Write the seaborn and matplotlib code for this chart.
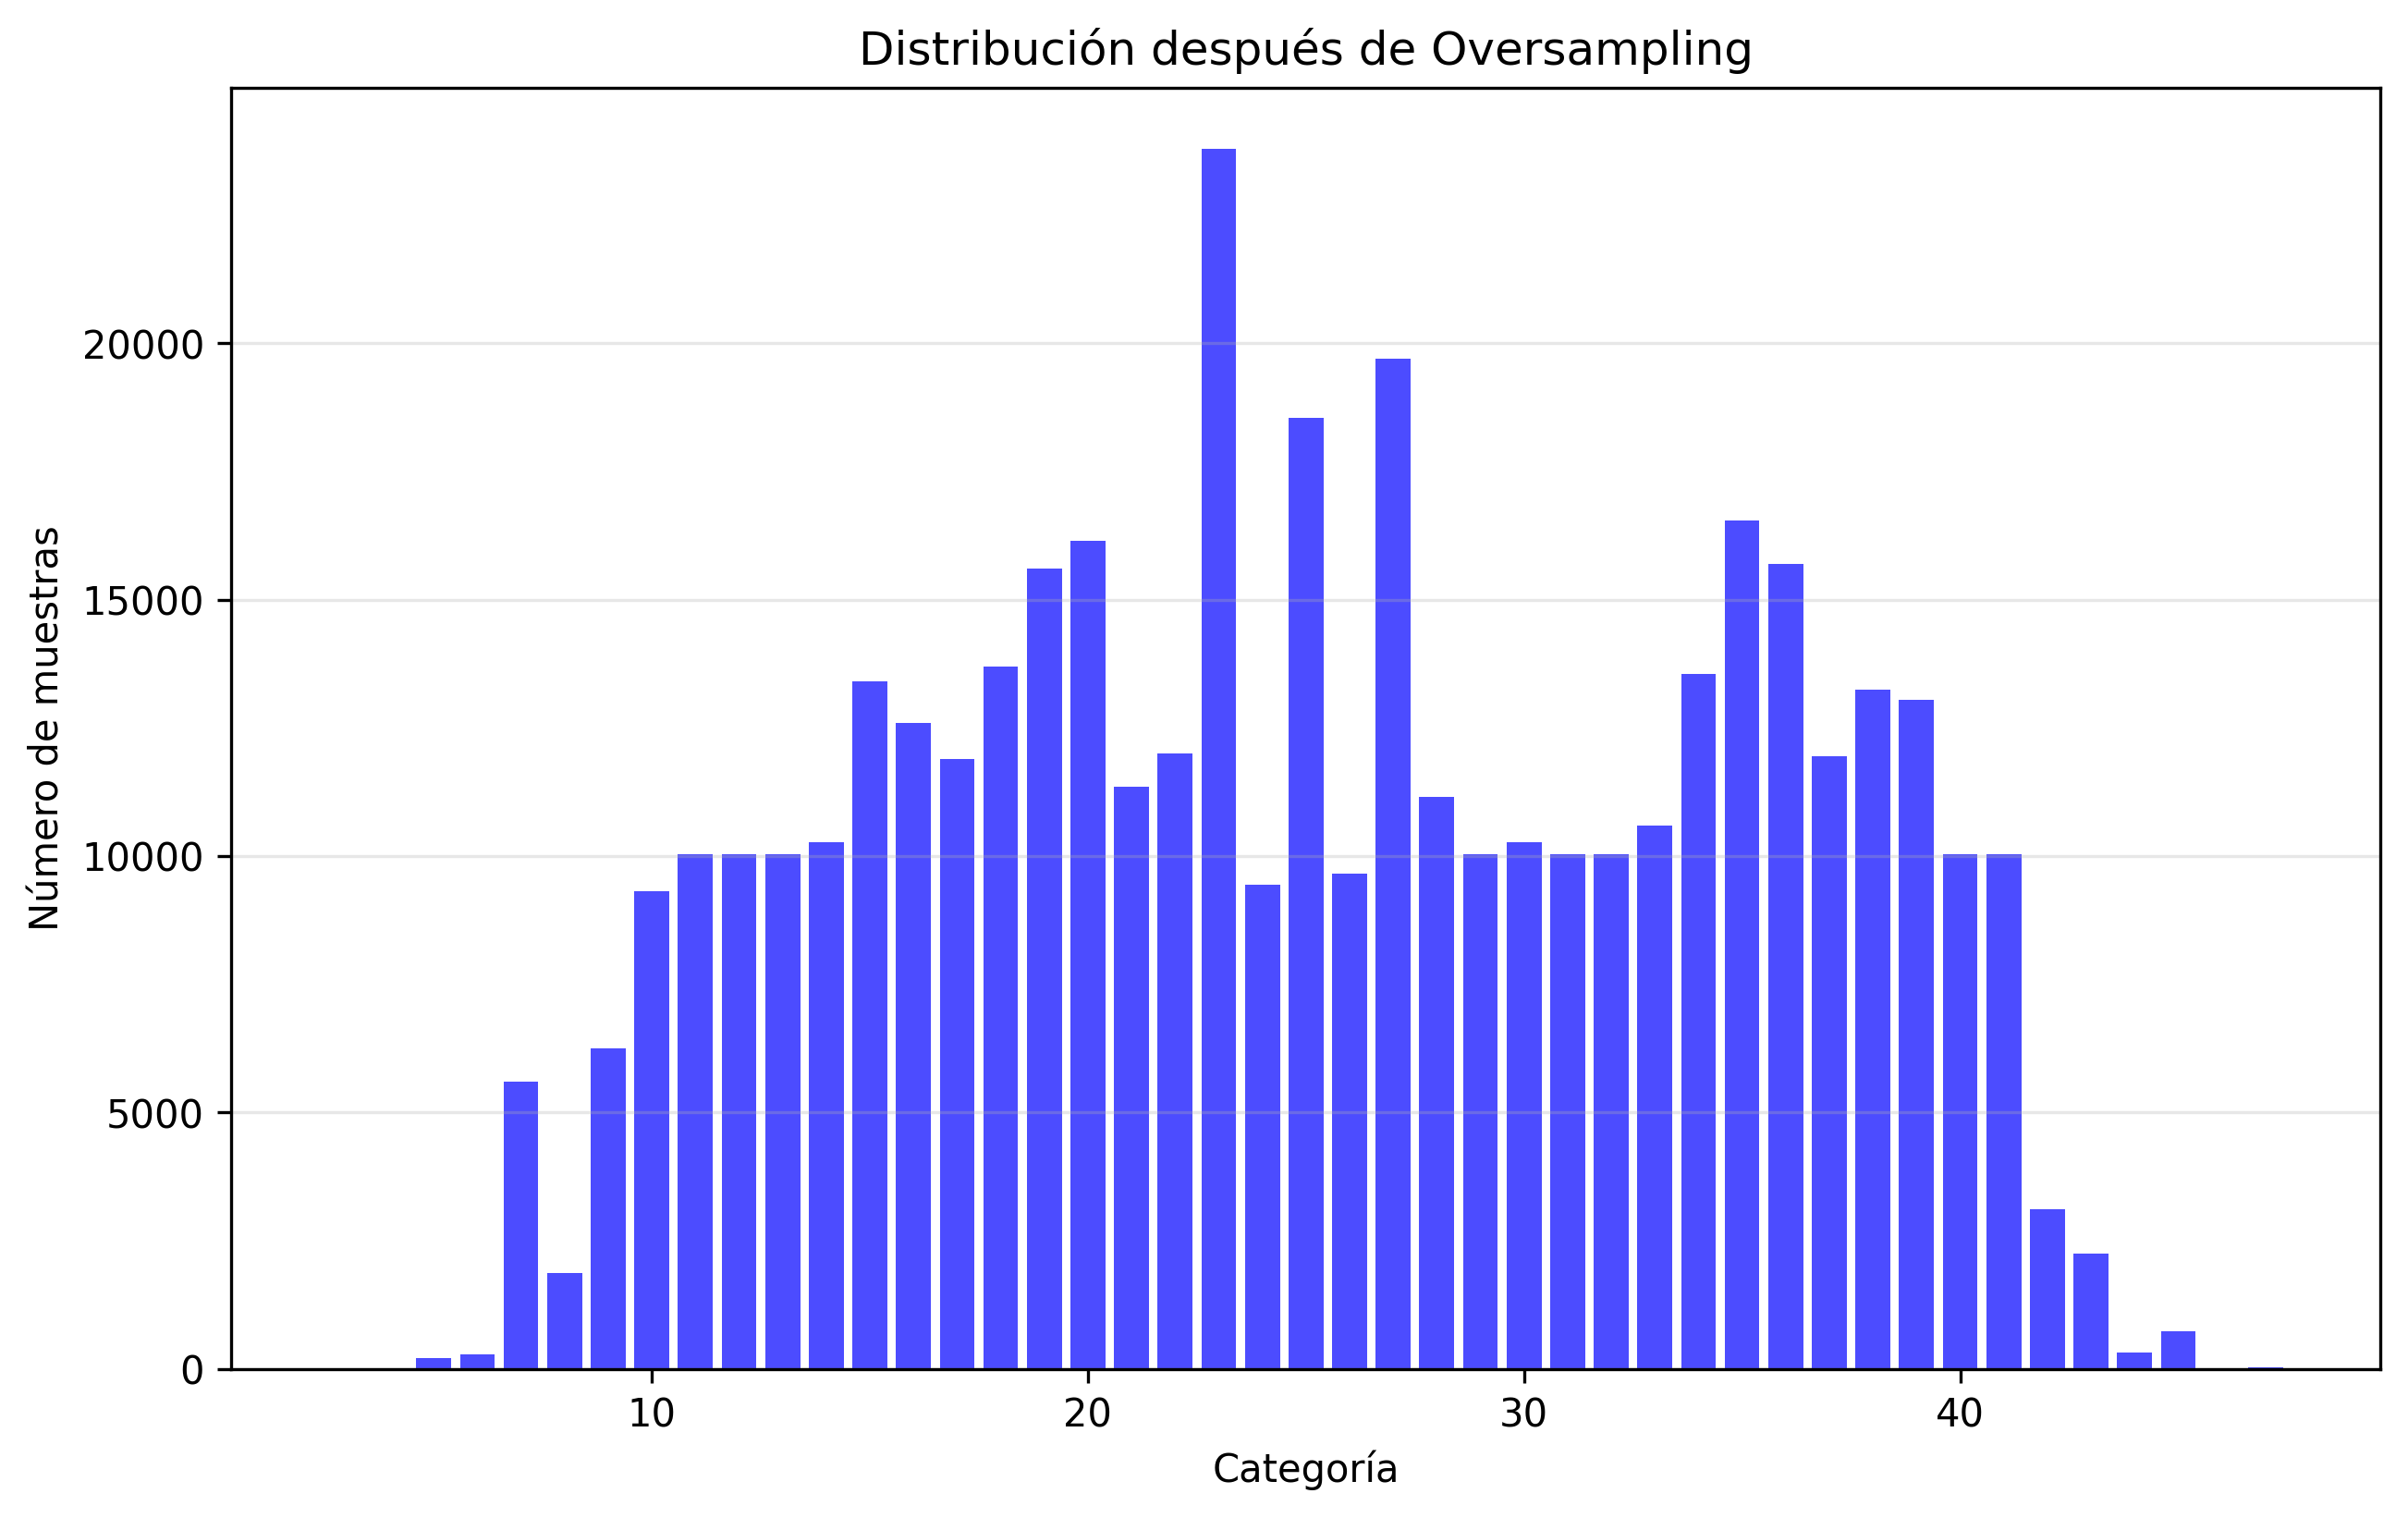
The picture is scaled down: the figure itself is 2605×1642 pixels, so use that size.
import matplotlib
matplotlib.use("Agg")
import matplotlib.pyplot as plt
import seaborn as sns
import pandas as pd

categorias = list(range(3, 48))
muestras = [
    5, 10, 216, 289, 5600, 1876, 6250, 9315,          # 3-10
    10030, 10030, 10030, 10275, 13400, 12600, 11900,  # 11-17
    13700, 15600, 16150, 11350, 12000, 23800, 9450,   # 18-24
    18550, 9650, 19700, 11150, 10030, 10280, 10030,   # 25-31
    10030, 10600, 13550, 16550, 15700, 11950, 13250,  # 32-38
    13050, 10030, 10030, 3120, 2240, 325, 740,        # 39-45
    5, 30,                                            # 46-47
]

titulo = "Distribución después de Oversampling"
etiqueta_x = "Categoría"
etiqueta_y = "Número de muestras"

df = pd.DataFrame({"categoria": categorias, "muestras": muestras})

fig, ax = plt.subplots(figsize=(10, 6), dpi=300)
sns.barplot(data=df, x="categoria", y="muestras", native_scale=True,
            color="blue", alpha=0.7, saturation=1, linewidth=0,
            errorbar=None, width=0.8, ax=ax)
ax.set_title(titulo)
ax.set_xlabel(etiqueta_x)
ax.set_ylabel(etiqueta_y)
ax.grid(axis="y", alpha=0.3)
fig.savefig("out.png", dpi=300, bbox_inches="tight")
